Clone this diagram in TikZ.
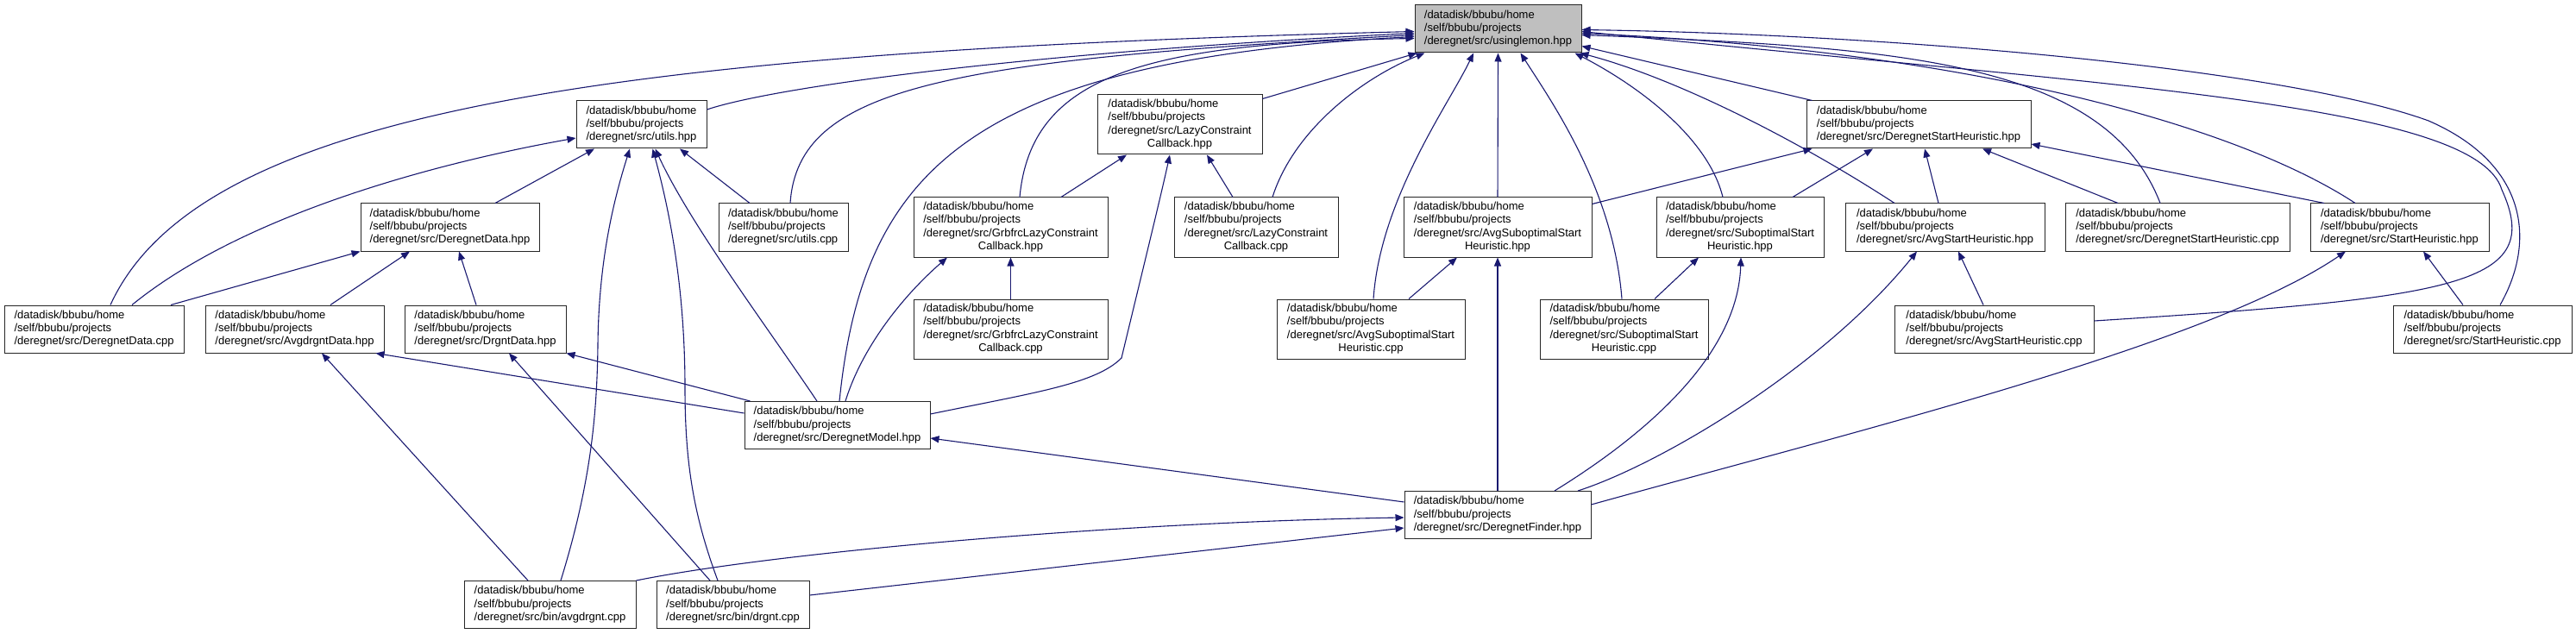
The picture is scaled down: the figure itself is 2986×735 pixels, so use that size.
\documentclass[tikz,border=0pt]{standalone}
\usepackage{fontspec}
\setmainfont{Liberation Sans}
\usetikzlibrary{arrows.meta}
\definecolor{edgeblue}{HTML}{191970}
\definecolor{lemongray}{HTML}{BFBFBF}
\newcommand{\fpath}[1]{\begin{tabular}{@{}l@{}}#1\end{tabular}}
\newcommand{\lastln}[1]{\multicolumn{1}{@{}c@{}}{#1}}
\newcommand{\pre}{/datadisk/bbubu/home\\/self/bbubu/projects\\/deregnet/src/}
\begin{document}
\begin{tikzpicture}[x=1pt,y=-1pt,font=\fontsize{13}{15.3}\selectfont,
  file/.style={draw=black!85,fill=white,line width=1pt,inner sep=0pt,minimum height=55pt},
  dep/.style={draw=edgeblue,line width=1.1pt,-{Triangle[length=10pt,width=8pt]}}]
\useasboundingbox (0,0) rectangle (2986,735);
\node[file,fill=lemongray,minimum width=193pt] (lemon) at (1736.5,33.5) {\fpath{\pre usinglemon.hpp}};
\foreach \n/\x/\y/\w/\f in {utilsH/743.5/144.5/151/utils.hpp, dshH/2224/144.5/260/DeregnetStartHeuristic.hpp,
  ddH/521.5/263.5/207/DeregnetData.hpp, utilsC/908/263.5/150/utils.cpp, ashH/2254.5/263.5/231/AvgStartHeuristic.hpp,
  dshC/2524/263.5/260/DeregnetStartHeuristic.cpp, shH/2781.5/263.5/207/StartHeuristic.hpp,
  ddC/109/381.5/208/DeregnetData.cpp, adH/341.5/381.5/207/AvgdrgntData.hpp, dgH/562.5/381.5/187/DrgntData.hpp,
  ashC/2311.5/381.5/231/AvgStartHeuristic.cpp, shC/2877.5/381.5/207/StartHeuristic.cpp,
  modelH/970.5/493/215/DeregnetModel.hpp, finderH/1736/597/216/DeregnetFinder.hpp,
  avgC/637.5/701/199/{bin/avgdrgnt.cpp}, dgC/849.5/701/177/{bin/drgnt.cpp}}
  \node[file,minimum width=\w pt] (\n) at (\x,\y) {\fpath{\pre\f}};
\foreach \n/\x/\y/\w/\f in {lazyH/1367.5/144.5/191/{LazyConstraint\\\lastln{Callback.hpp}},
  grbH/1171.5/263.5/225/{GrbfrcLazyConstraint\\\lastln{Callback.hpp}},
  lazyC/1456/263.5/190/{LazyConstraint\\\lastln{Callback.cpp}},
  asshH/1736/263.5/218/{AvgSuboptimalStart\\\lastln{Heuristic.hpp}},
  sshH/2017/263.5/194/{SuboptimalStart\\\lastln{Heuristic.hpp}},
  grbC/1171.5/381.5/225/{GrbfrcLazyConstraint\\\lastln{Callback.cpp}},
  asshC/1589/381.5/218/{AvgSuboptimalStart\\\lastln{Heuristic.cpp}},
  sshC/1882.5/381.5/195/{SuboptimalStart\\\lastln{Heuristic.cpp}}}
  \node[file,minimum width=\w pt,minimum height=69pt] (\n) at (\x,\y) {\fpath{\pre\f}};
\draw[dep] ([xshift=19pt]ddC.north) .. controls (230,130) and (700,60) .. ([yshift=-3pt]lemon.west);
\draw[dep] ([yshift=17.5pt]utilsH.east) .. controls (900,100) and (1200,60) .. ([yshift=-5pt]lemon.west);
\draw[dep] ([xshift=8pt]utilsC.north) .. controls (925,100) and (1100,70) .. ([yshift=-7pt]lemon.west);
\draw[dep] ([xshift=2.5pt]modelH.north) .. controls (1000,200) and (1120,70) .. ([yshift=-9pt]lemon.west);
\draw[dep] ([xshift=10.5pt]grbH.north) .. controls (1195,90) and (1320,50) .. ([yshift=-11pt]lemon.west);
\draw[dep] ([yshift=-5pt]lazyH.north east) -- ([xshift=3pt]lemon.south west);
\draw[dep] ([xshift=19pt]lazyC.north) .. controls (1500,150) and (1580,90) .. ([xshift=12pt]lemon.south west);
\draw[dep] ([xshift=3pt]asshC.north) .. controls (1600,230) and (1680,120) .. ([xshift=-28.5pt]lemon.south);
\draw[dep] (asshH.north) -- (lemon.south);
\draw[dep] ([xshift=-2.5pt]sshC.north) .. controls (1870,220) and (1800,120) .. ([xshift=26pt]lemon.south);
\draw[dep] ([xshift=-20pt]sshH.north) .. controls (1980,160) and (1900,100) .. ([xshift=-8pt]lemon.south east);
\draw[dep] ([xshift=-58.5pt]ashH.north) .. controls (2080,160) and (1940,90) .. ([xshift=-2pt]lemon.south east);
\draw[dep] ([xshift=7pt]dshH.north west) -- ([yshift=-20pt]lemon.east);
\draw[dep] ([xshift=-20pt]dshC.north) .. controls (2440,70) and (2200,55) .. ([yshift=-7pt]lemon.east);
\draw[dep] ([xshift=-51.5pt]shH.north) .. controls (2600,150) and (2300,60) .. ([yshift=-5pt]lemon.east);
\draw[dep] ([yshift=9.5pt]ashC.east) .. controls (2850,345) and (2950,330) .. (2900,220)
  .. controls (2870,120) and (2450,100) .. ([yshift=-3pt]lemon.east);
\draw[dep] ([xshift=20.5pt]shC.north) .. controls (2940,280) and (2930,190) .. (2815,140)
  .. controls (2650,80) and (2200,40) .. ([yshift=-1pt]lemon.east);
\draw[dep] ([xshift=52.5pt]ddH.north) -- ([xshift=-54.5pt]utilsH.south);
\draw[dep] ([xshift=44pt]ddC.north) .. controls (280,250) and (500,190) .. ([yshift=-15.5pt]utilsH.west);
\draw[dep] ([xshift=89pt]ddC.north) -- (ddH.south west);
\draw[dep] ([xshift=41.5pt]adH.north) -- ([xshift=-46.5pt]ddH.south);
\draw[dep] ([xshift=-10.5pt]dgH.north) -- ([xshift=10.5pt]ddH.south);
\draw[dep] ([xshift=-39pt]utilsC.north) -- ([xshift=44.5pt]utilsH.south);
\draw[dep] ([xshift=12.5pt]avgC.north) .. controls (685,560) and (692,480) .. (693,400)
  .. controls (694,300) and (712,230) .. ([xshift=-13.5pt]utilsH.south);
\draw[dep] ([xshift=-17.5pt]dgC.north) .. controls (805,600) and (794,540) .. (794,450)
  .. controls (794,330) and (775,240) .. ([xshift=13pt]utilsH.south);
\draw[dep] ([xshift=-23.5pt]modelH.north) .. controls (890,380) and (800,260) .. ([xshift=16pt]utilsH.south);
\draw[dep] ([yshift=14pt]modelH.west) -- ([xshift=-10pt]adH.south east);
\draw[dep] ([xshift=7pt]modelH.north west) -- (dgH.south east);
\draw[dep] ([xshift=-25.5pt]avgC.north) -- ([xshift=31.5pt]adH.south);
\draw[dep] ([xshift=-26.5pt]dgC.north) -- ([xshift=27.5pt]dgH.south);
\draw[dep] (grbC.north) -- (grbH.south);
\draw[dep] ([xshift=58.5pt]grbH.north) -- ([xshift=-61.5pt]lazyH.south);
\draw[dep] ([xshift=-27pt]lazyC.north) -- ([xshift=31.5pt]lazyH.south);
\draw[dep] ([yshift=13pt]modelH.east) .. controls (1200,455) and (1270,445) .. (1300,415)
  .. controls (1318,340) and (1345,230) .. ([xshift=-11.5pt]lazyH.south);
\draw[dep] ([xshift=9.5pt]modelH.north) .. controls (1000,400) and (1050,340) .. ([xshift=-73.5pt]grbH.south);
\draw[dep] ([xshift=44pt]asshC.north) -- ([xshift=-47pt]asshH.south);
\draw[dep] (finderH.north) -- (asshH.south);
\draw[dep] ([xshift=35.5pt]sshC.north) -- ([xshift=-48pt]sshH.south);
\draw[dep] ([xshift=66pt]finderH.north) .. controls (1930,490) and (2015,400) .. ([xshift=1pt]sshH.south);
\draw[dep] ([yshift=-8pt]asshH.north east) -- ([xshift=7pt]dshH.south west);
\draw[dep] ([xshift=61pt]sshH.north) -- ([xshift=-53pt]dshH.south);
\draw[dep] ([xshift=-7.5pt]ashH.north) -- ([xshift=7pt]dshH.south);
\draw[dep] ([xshift=-69pt]dshC.north) -- ([xshift=74pt]dshH.south);
\draw[dep] ([xshift=-87.5pt]shH.north) -- ([yshift=-22.5pt]dshH.east);
\draw[dep] ([xshift=-12.5pt]ashC.north) -- ([xshift=15.5pt]ashH.south);
\draw[dep] ([xshift=93pt]finderH.north) .. controls (1920,540) and (2110,430) .. ([xshift=-32.5pt]ashH.south);
\draw[dep] ([xshift=-22.5pt]shC.north) -- ([xshift=27.5pt]shH.south);
\draw[dep] ([yshift=12pt]finderH.east) .. controls (2150,500) and (2560,400) .. ([xshift=-62.5pt]shH.south);
\draw[dep] ([yshift=15pt]finderH.west) -- ([yshift=-15pt]modelH.east);
\draw[dep] (avgC.north east) .. controls (900,640) and (1300,605) .. ([yshift=-3pt]finderH.west);
\draw[dep] ([yshift=11pt]dgC.east) -- ([yshift=-15pt]finderH.west);
\end{tikzpicture}
\end{document}
